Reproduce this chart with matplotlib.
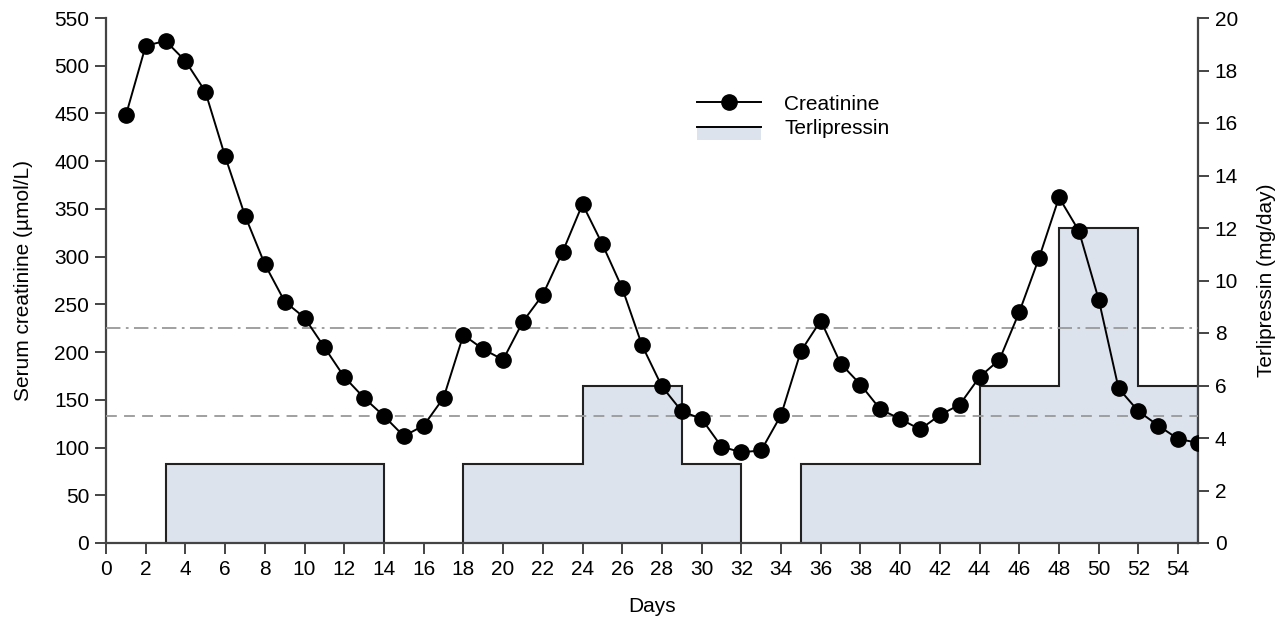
import matplotlib
matplotlib.use("Agg")
import matplotlib.pyplot as plt
from matplotlib.lines import Line2D
from matplotlib.patches import Rectangle
from matplotlib.legend_handler import HandlerBase

plt.rcParams['font.family'] = ['Liberation Sans', 'DejaVu Sans']

days = list(range(1, 56))
creatinine = [448, 521, 526, 505, 473, 405, 343, 292, 253, 236,
              205, 174, 152, 133, 112, 123, 152, 218, 203, 192,
              232, 260, 305, 355, 313, 267, 207, 164, 138, 130,
              101, 95, 97, 134, 201, 233, 188, 166, 140, 130,
              119, 134, 145, 174, 192, 242, 299, 362, 327, 255,
              162, 138, 123, 109, 105]

terli_start = [3, 18, 24, 29, 35, 44, 48, 52]
terli_end = [14, 24, 29, 32, 44, 48, 52, 55]
terli_dose = [3, 3, 6, 3, 3, 6, 12, 6]

ref_upper = 225
ref_lower = 133

xticks = list(range(0, 55, 2))
yticks_left = list(range(0, 551, 50))
yticks_right = list(range(0, 21, 2))

fill_color = '#dce3ed'
spine_color = '#444444'
tick_fs = 15
label_fs = 15

fig = plt.figure(figsize=(12.87, 6.22), dpi=100)
ax = fig.add_axes([106/1287, 1 - 543/622, (1198-106)/1287, (543-18)/622])
ax2 = ax.twinx()

# Terlipressin blocks (contiguous groups)
groups = []
for s, e, d in zip(terli_start, terli_end, terli_dose):
    if groups and groups[-1][-1][1] == s:
        groups[-1].append((s, e, d))
    else:
        groups.append([(s, e, d)])
for g in groups:
    xs = [g[0][0]]
    ys = [0]
    for s, e, d in g:
        xs += [s, e]
        ys += [d, d]
    xs.append(g[-1][1])
    ys.append(0)
    ax2.fill(xs, ys, facecolor=fill_color, edgecolor='none', zorder=1)
    ax2.plot(xs, ys, color='#222222', lw=1.5, zorder=2, solid_joinstyle='miter')

ax2.set_ylim(0, 20)
ax2.set_yticks(yticks_right)
ax2.set_ylabel('Terlipressin (mg/day)', fontsize=label_fs, labelpad=14)

ax.set_zorder(ax2.get_zorder() + 1)
ax.patch.set_visible(False)

ax.axhline(ref_upper, color='#999999', lw=1.3, dashes=(8, 3, 1.5, 3), zorder=3)
ax.axhline(ref_lower, color='#999999', lw=1.3, dashes=(6, 4), zorder=3)

ax.plot(days, creatinine, color='black', lw=1.4, marker='o', markersize=11, zorder=5)

ax.set_xlim(0, 55)
ax.set_ylim(0, 550)
ax.set_xticks(xticks)
ax.set_yticks(yticks_left)
ax.set_xlabel('Days', fontsize=label_fs, labelpad=13)
ax.set_ylabel('Serum creatinine (µmol/L)', fontsize=label_fs, labelpad=15)

for a in (ax, ax2):
    a.spines['top'].set_visible(False)
    for sp in a.spines.values():
        sp.set_color(spine_color)
        sp.set_linewidth(1.6)
    a.tick_params(direction='out', length=8, width=1.4, color=spine_color,
                  labelsize=tick_fs, pad=4)
ax.spines['right'].set_visible(False)
ax2.spines['left'].set_visible(False)
ax2.spines['bottom'].set_visible(False)


class FillLineHandler(HandlerBase):
    def create_artists(self, legend, orig_handle, xdescent, ydescent,
                       width, height, fontsize, trans):
        r = Rectangle((-xdescent, -ydescent - height * 0.45), width, height * 0.95,
                      facecolor=fill_color, edgecolor='none', transform=trans)
        l = Line2D([-xdescent, -xdescent + width],
                   [-ydescent + height * 0.5, -ydescent + height * 0.5],
                   color='black', lw=1.4, transform=trans)
        return [r, l]


h1 = Line2D([], [], color='black', lw=1.4, marker='o', markersize=11)
h2 = Rectangle((0, 0), 1, 1)
leg = ax.legend([h1, h2], ['Creatinine', 'Terlipressin'],
                handler_map={Rectangle: FillLineHandler()},
                loc='upper left', bbox_to_anchor=((680-106)/1092, (543-78)/525),
                frameon=False, fontsize=tick_fs, handlelength=3.1,
                handletextpad=1.1, labelspacing=0.25, borderpad=0.3)

fig.savefig('out.png', dpi=100)
